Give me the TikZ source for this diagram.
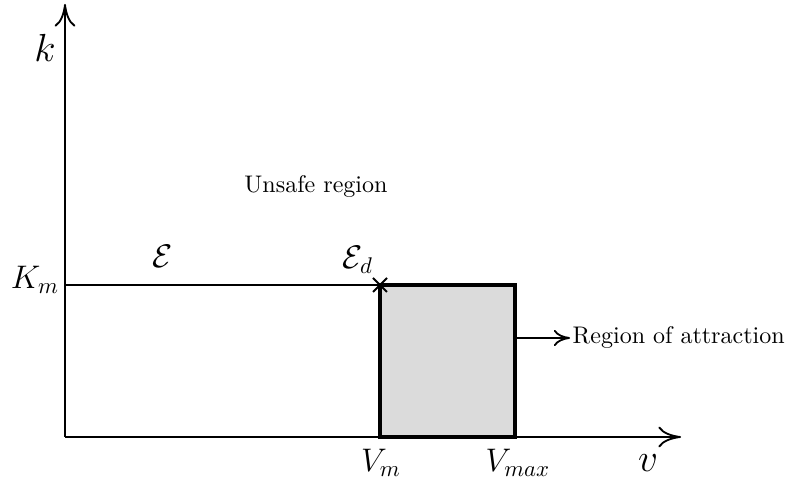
\documentclass[tikz,border=0pt]{standalone}
\usepackage{amsmath,amssymb}
\usetikzlibrary{arrows.meta, positioning, calc}
\tikzset{
  axis/.style={
    -{To[length=3.5mm,width=3.2mm]},
    line width=0.8pt
  },
  label/.style={
    font=\fontsize{14}{16}\selectfont
  },
  biglabel/.style={
    font=\fontsize{16}{18}\selectfont
  },
  txt/.style={
    font=\fontsize{10.6}{13}\selectfont
  },
  region/.style={
    draw,
    line width=1.5pt,
    fill=black!14
  },
  arrow/.style={
    -{To[length=2.5mm,width=2.5mm]},
    line width=0.8pt
  }
}

\begin{document}
\begin{tikzpicture}[x=0.0155cm, y=-0.0155cm]
  \useasboundingbox (0,0) rectangle (786,485);

  \coordinate (O) at (65,437);
  \coordinate (ktip) at (65,4);
  \coordinate (vtip) at (681,437);
  \coordinate (km) at (65,285);
  \coordinate (Ed) at (380,285);
  \coordinate (vmax) at (515,437);
  \coordinate (attr) at (515,338);

  % axes
  \draw[axis] (O) -- (ktip);
  \draw[axis] (O) -- (vtip);

  % region of attraction
  \draw[region] (Ed) rectangle (vmax);
  \draw[line width=0.8pt] (km) -- (Ed);
  \draw[line width=0.8pt] ($(Ed)+(-7,-7)$) -- ($(Ed)+(7,7)$)
    ($(Ed)+(-7,7)$) -- ($(Ed)+(7,-7)$);

  \node[biglabel] (k) at (45,48) {$k$};
  \node[biglabel] (v) at (648,463) {$v$};
  \node[label] (Km) at (35,280) {$K_m$};
  \node[label] (Vm) at (381,463) {$V_m$};
  \node[label] (Vmax) at (518,463) {$V_{max}$};
  \node[label] (E) at (163,256) {$\mathcal{E}$};
  \node[label] (Edl) at (358,260) {$\mathcal{E}_d$};
  \node[txt] (unsafe) at (316,187) {Unsafe region};
  \node[txt, anchor=west, inner sep=1pt] (roa) at (570,338) {Region of attraction};

  \draw[arrow] (attr) -- (roa.west);
\end{tikzpicture}
\end{document}
